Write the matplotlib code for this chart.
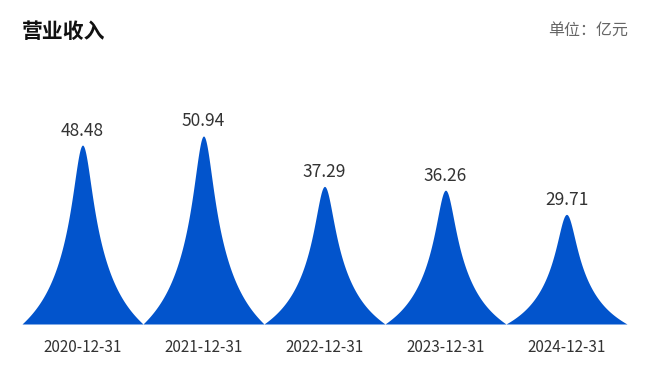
import numpy as np
import matplotlib
matplotlib.use("Agg")
import matplotlib.pyplot as plt

plt.rcParams['font.family'] = ['Noto Sans CJK SC', 'DejaVu Sans']

# data
years = ["2020-12-31", "2021-12-31", "2022-12-31", "2023-12-31", "2024-12-31"]
revenue = [48.48, 50.94, 37.29, 36.26, 29.71]

bar_color = "#0254cc"
text_color = "#333333"


def peak_profile(u):
    # spike shape: narrow rounded top, wide concave flanks, 1 at center -> 0 at edge
    u = np.abs(u)
    core = 0.6 / (1 + (u / 0.2) ** 2) + 0.4 / (1 + (u / 0.55) ** 2)
    return core * (1 - u) * np.exp(u)


fig = plt.figure(figsize=(6.6, 3.69), dpi=100)
ax = fig.add_axes([22 / 660, 45 / 369, 605 / 660, 221.4 / 369])

s = np.linspace(-1, 1, 801)
for i, v in enumerate(revenue):
    ax.fill_between(i + 0.5 * s, 0, v * peak_profile(s), color=bar_color,
                    linewidth=0)
    ax.annotate(f"{v:.2f}", (i, v), xytext=(0, 4), textcoords="offset points",
                ha="center", va="bottom", fontsize=12.5, color=text_color)

ax.set_xlim(-0.5, len(years) - 0.5)
ax.set_ylim(0, 60)
ax.set_xticks(range(len(years)))
ax.set_xticklabels(years, fontsize=11, color=text_color)
ax.tick_params(axis="x", length=0, pad=11)
ax.set_yticks([])
for sp in ax.spines.values():
    sp.set_visible(False)

fig.text(22 / 660, 1 - 31 / 369, "营业收入", fontsize=15, fontweight="bold",
         color="#111111", ha="left", va="center")
fig.text(628 / 660, 1 - 30 / 369, "单位：亿元", fontsize=11.5, color="#666666",
         ha="right", va="center")

fig.savefig("out.png", dpi=100)
